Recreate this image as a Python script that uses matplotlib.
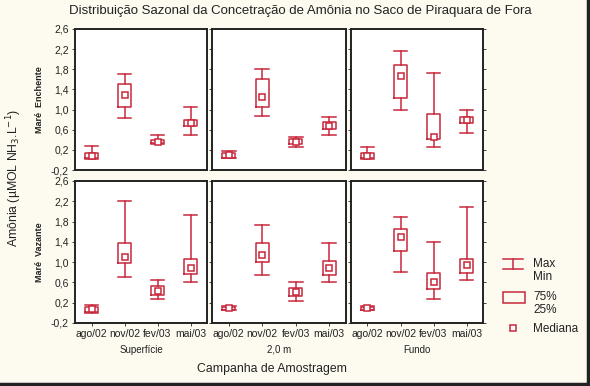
import matplotlib
matplotlib.use("Agg")
import matplotlib.pyplot as plt
from matplotlib.lines import Line2D
from matplotlib.patches import Rectangle

plt.rcParams['font.family'] = ['Liberation Sans', 'DejaVu Sans']

campanhas = ["ago/02", "nov/02", "fev/03", "mai/03"]
profundidades = ["Superfície", "2,0 m", "Fundo"]
mares = ["Maré  Enchente", "Maré  Vazante"]

# min, q1, mediana, q3, max  per campanha
ench_sup = [[0.02, 0.03, 0.08, 0.14, 0.28], [0.83, 1.06, 1.28, 1.51, 1.71],
            [0.32, 0.33, 0.36, 0.40, 0.50], [0.50, 0.67, 0.73, 0.79, 1.06]]
ench_2m = [[0.04, 0.04, 0.10, 0.13, 0.18], [0.87, 1.06, 1.24, 1.61, 1.81],
           [0.26, 0.31, 0.36, 0.42, 0.45], [0.50, 0.61, 0.67, 0.75, 0.86]]
ench_fun = [[0.02, 0.03, 0.08, 0.13, 0.26], [0.99, 1.22, 1.66, 1.88, 2.17],
            [0.26, 0.41, 0.46, 0.91, 1.72], [0.53, 0.73, 0.79, 0.85, 0.99]]
vaz_sup = [[-0.01, 0.02, 0.07, 0.11, 0.15], [0.71, 0.98, 1.11, 1.37, 2.21],
           [0.27, 0.35, 0.43, 0.53, 0.65], [0.60, 0.76, 0.89, 1.06, 1.93]]
vaz_2m = [[0.05, 0.06, 0.09, 0.12, 0.14], [0.75, 1.01, 1.14, 1.37, 1.73],
          [0.24, 0.33, 0.42, 0.50, 0.60], [0.60, 0.75, 0.89, 1.02, 1.38]]
vaz_fun = [[0.05, 0.06, 0.09, 0.12, 0.13], [0.81, 1.21, 1.49, 1.65, 1.90],
           [0.27, 0.48, 0.61, 0.79, 1.39], [0.65, 0.79, 0.94, 1.06, 2.09]]

dados = [[ench_sup, ench_2m, ench_fun], [vaz_sup, vaz_2m, vaz_fun]]

yticks = [-0.2, 0.2, 0.6, 1.0, 1.4, 1.8, 2.2, 2.6]
ylabels = ["-0,2", "0,2", "0,6", "1,0", "1,4", "1,8", "2,2", "2,6"]

red = "#c8283c"
bg = "#fdfaf0"
ink = "#222222"

fig = plt.figure(figsize=(5.9, 3.86), dpi=100, facecolor=bg)

W, H = 590.0, 386.0
lefts = [75, 212, 351]
widths = [132, 134, 132]
rows = [(29, 170), (181, 323)]

for r in range(2):
    for c in range(3):
        top, bot = rows[r]
        ax = fig.add_axes([lefts[c] / W, 1 - bot / H, widths[c] / W, (bot - top) / H])
        stats = []
        for lab, v in zip(campanhas, dados[r][c]):
            stats.append(dict(label=lab, whislo=v[0], q1=v[1], med=v[2], q3=v[3], whishi=v[4]))
        ax.bxp(stats, positions=[1, 2, 3, 4], widths=0.38, capwidths=0.42,
               showfliers=False, showmeans=False,
               boxprops=dict(color=red, linewidth=1.1),
               whiskerprops=dict(color=red, linewidth=1.1),
               capprops=dict(color=red, linewidth=1.1),
               medianprops=dict(linestyle='none'))
        meds = [v[2] for v in dados[r][c]]
        ax.plot([1, 2, 3, 4], meds, linestyle='none', marker='s', markersize=4.8,
                markerfacecolor='white', markeredgecolor=red, markeredgewidth=1.1)
        ax.set_xlim(0.5, 4.5)
        ax.set_ylim(-0.2, 2.6)
        ax.set_yticks(yticks)
        ax.set_facecolor('white')
        for s in ax.spines.values():
            s.set_linewidth(1.4)
            s.set_color(ink)
        ax.tick_params(axis='both', direction='out', length=2.5, width=0.6,
                       labelsize=7.5, pad=2, colors=ink)
        if c == 0:
            ax.set_yticklabels(ylabels)
        else:
            ax.set_yticklabels([])
        if c == 2:
            ax.tick_params(axis='y', right=True)
        if r == 1:
            ax.set_xticks([1, 2, 3, 4])
            ax.set_xticklabels(campanhas)
            ax.set_xlabel(profundidades[c], fontsize=7, labelpad=4, color=ink)
        else:
            ax.set_xticks([])
        if c == 0:
            fig.text(40 / W, 1 - (top + bot) / 2 / H, mares[r], rotation=90,
                     fontsize=6.5, fontweight='bold', ha='center', va='center', color=ink)

fig.text(0.5 * (55 + 545) / W, 1 - 11 / H,
         "Distribuição Sazonal da Concetração de Amônia no Saco de Piraquara de Fora",
         fontsize=9.5, ha='center', va='center', color=ink)
fig.text(272 / W, 1 - 369 / H, "Campanha de Amostragem", fontsize=8.8,
         ha='center', va='center', color=ink)
fig.text(14 / W, 1 - 178 / H, "Amônia (µMOL NH$_3$.L$^{-1}$)", rotation=90,
         fontsize=8.8, ha='center', va='center', color=ink)

# legend
lg = fig.add_axes([490 / W, 1 - 345 / H, 100 / W, 95 / H])
lg.set_xlim(490, 590)
lg.set_ylim(345, 250)
lg.axis('off')
lg.plot([503, 523], [259, 259], color=red, lw=1.1)
lg.plot([503, 523], [269, 269], color=red, lw=1.1)
lg.plot([513, 513], [259, 269], color=red, lw=1.1)
lg.text(533, 264, "Max", fontsize=8.5, va='center', color=ink)
lg.text(533, 277, "Min", fontsize=8.5, va='center', color=ink)
lg.add_patch(Rectangle((503, 292), 22, 11, fill=False, edgecolor=red, lw=1.1))
lg.text(533, 297, "75%", fontsize=8.5, va='center', color=ink)
lg.text(533, 310, "25%", fontsize=8.5, va='center', color=ink)
lg.plot([513], [328], marker='s', markersize=4.5, markerfacecolor='white',
        markeredgecolor=red, markeredgewidth=1.1)
lg.text(533, 329, "Mediana", fontsize=8.5, va='center', color=ink)

# frame border at right and bottom
fig.add_artist(Line2D([0, 1], [2 / H, 2 / H], color=ink, lw=2.5, transform=fig.transFigure))
fig.add_artist(Line2D([1 - 2 / W, 1 - 2 / W], [0, 1], color=ink, lw=2.5, transform=fig.transFigure))

fig.savefig("out.png", dpi=100, facecolor=bg)
